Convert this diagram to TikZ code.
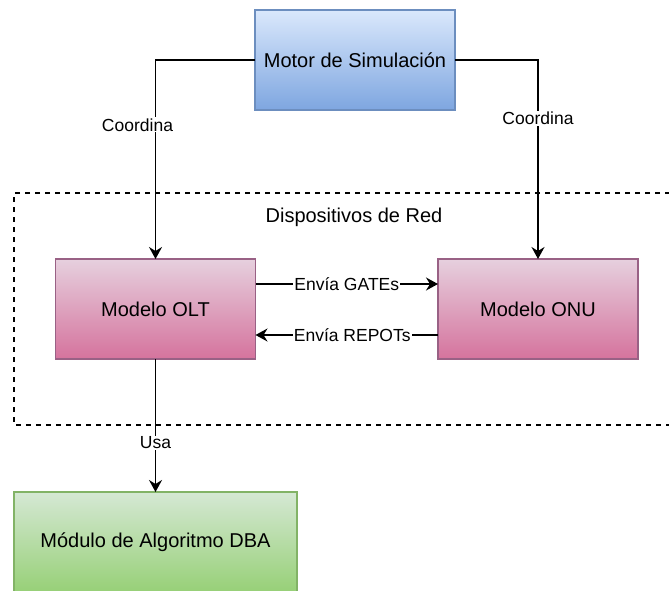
\documentclass[tikz,border=0pt]{standalone}
\usepackage{fontspec}
\setmainfont{Liberation Sans}
\usetikzlibrary{arrows.meta}
\definecolor{blueTop}{HTML}{DAE8FC}
\definecolor{blueBot}{HTML}{7EA6E0}
\definecolor{blueLine}{HTML}{6C8EBF}
\definecolor{pinkTop}{HTML}{E6D0DE}
\definecolor{pinkBot}{HTML}{D5739D}
\definecolor{pinkLine}{HTML}{996185}
\definecolor{greenTop}{HTML}{D5E8D4}
\definecolor{greenBot}{HTML}{97D077}
\definecolor{greenLine}{HTML}{82B366}
\tikzset{
  box/.style={line width=1.6pt, minimum width=200pt, minimum height=100pt,
    inner sep=0pt, outer sep=0pt, font=\fontsize{20}{24}\selectfont},
  motorbox/.style={box, draw=blueLine, top color=blueTop, bottom color=blueBot},
  modelbox/.style={box, draw=pinkLine, top color=pinkTop, bottom color=pinkBot},
  dbabox/.style={box, minimum width=283pt, draw=greenLine, top color=greenTop, bottom color=greenBot},
  conn/.style={line width=1.6pt, -{Stealth[length=12pt,width=13pt,inset=4pt]}},
  lbl/.style={fill=white, inner sep=1pt, font=\fontsize{17.5}{21}\selectfont},
  group/.style={line width=1.4pt, dash pattern=on 5pt off 5pt},
}
\begin{document}
\begin{tikzpicture}[x=1pt, y=-1pt]
  \clip (0,0) rectangle (669,590);
  \fill[white] (0,0) rectangle (669,590);

  % network devices group
  \draw[group] (700,193) -- (14,193) -- (14,425) -- (700,425);
  \node[font=\fontsize{20}{24}\selectfont] (grp) at (354,217) {Dispositivos de Red};

  % components
  \node[motorbox] (motor) at (355,60) {Motor de Simulación};
  \node[modelbox] (olt) at (155.5,309) {Modelo OLT};
  \node[modelbox] (onu) at (538,309) {Modelo ONU};
  \node[dbabox] (dba) at (155.5,542) {Módulo de Algoritmo DBA};

  % connectors
  \draw[conn] (motor.west) -| (olt.north)
    node[lbl, pos=0.663, xshift=-18pt] {Coordina};
  \draw[conn] (motor.east) -| (onu.north)
    node[lbl, pos=0.646] {Coordina};
  \draw[conn] ([yshift=25pt]olt.east) -- ([yshift=25pt]onu.west)
    node[lbl, midway] {Envía GATEs};
  \draw[conn] ([yshift=-26pt]onu.west) -- ([yshift=-26pt]olt.east)
    node[lbl, pos=0.47] {Envía REPOTs};
  \draw[conn] (olt.south) -- (dba.north)
    node[lbl, pos=0.63] {Usa};
\end{tikzpicture}
\end{document}
